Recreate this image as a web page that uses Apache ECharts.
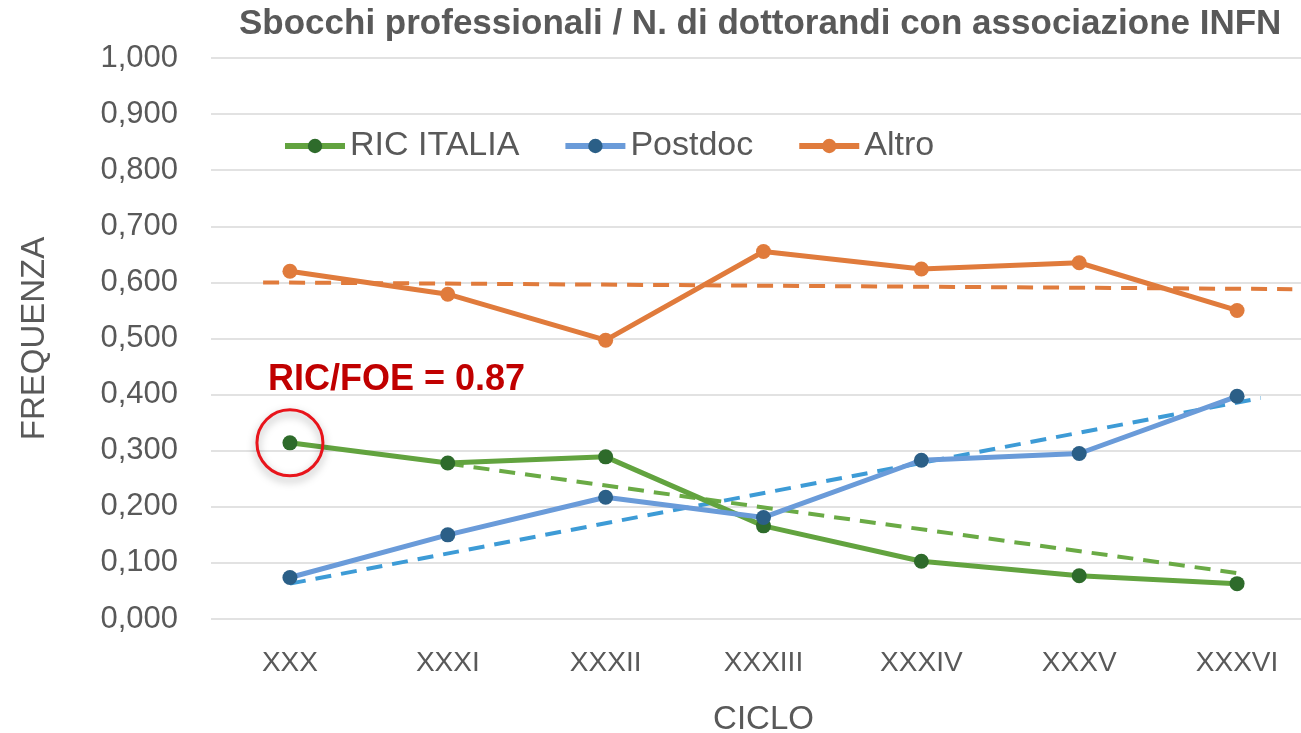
<!DOCTYPE html>
<html>
<head>
<meta charset="utf-8">
<script src="https://cdn.jsdelivr.net/npm/echarts@6/dist/echarts.min.js"></script>
<style>
  html, body { margin: 0; padding: 0; background: #fff; }
  #chart { width: 1301px; height: 733px; }
</style>
</head>
<body>
<div id="chart"></div>
<script>
const cicli = ['XXX', 'XXXI', 'XXXII', 'XXXIII', 'XXXIV', 'XXXV', 'XXXVI']
const ricItalia = [0.314, 0.278, 0.289, 0.166, 0.103, 0.077, 0.063]
const postdoc = [0.074, 0.150, 0.217, 0.181, 0.283, 0.295, 0.397]
const altro = [0.620, 0.579, 0.497, 0.655, 0.624, 0.635, 0.550]
// trend lines (dashed): [x in category units, y]
const trendRic = [[1.5, 0.277], [6.55, 0.080]]
const trendPostdoc = [[0.5, 0.063], [6.65, 0.394]]
const trendAltro = [[0.33, 0.600], [6.85, 0.588]]

const FONT = '"Liberation Sans", Arial, sans-serif'
const GREY = '#595959'

const myChart = echarts.init(document.getElementById('chart'))

function lineSeries (name, data, lineColor, dotColor, z) {
  return {
    name: name,
    type: 'line',
    data: data,
    symbol: 'circle',
    symbolSize: 15,
    z: z,
    lineStyle: { color: lineColor, width: 5 },
    itemStyle: { color: dotColor },
    emphasis: { disabled: true }
  }
}

function trendSeries (data, color) {
  return {
    type: 'line',
    xAxisIndex: 1,
    data: data,
    symbol: 'none',
    z: 1,
    lineStyle: { color: color, width: 4, type: [16, 10] },
    emphasis: { disabled: true }
  }
}

const ric = lineSeries('RIC ITALIA', ricItalia, '#62a33f', '#2e6b2b', 3)
ric.markPoint = {
  symbol: 'circle',
  symbolSize: 66,
  silent: true,
  label: { show: false },
  itemStyle: {
    color: 'rgba(255,255,255,0)',
    borderColor: '#e8141b',
    borderWidth: 3,
    shadowBlur: 8,
    shadowColor: 'rgba(0,0,0,0.35)',
    shadowOffsetY: 4
  },
  data: [{ coord: ['XXX', ricItalia[0]] }]
}

const option = {
  backgroundColor: '#fff',
  animation: false,
  textStyle: { fontFamily: FONT },
  title: {
    text: 'Sbocchi professionali / N. di dottorandi con associazione INFN',
    left: 234,
    top: 2,
    textStyle: { fontFamily: FONT, fontSize: 35, fontWeight: 'bold', color: GREY }
  },
  legend: {
    data: ['RIC ITALIA', 'Postdoc', 'Altro'],
    left: 277,
    top: 124,
    itemWidth: 60,
    itemHeight: 18,
    itemGap: 43,
    lineStyle: { width: 6 },
    textStyle: { fontFamily: FONT, fontSize: 34, color: GREY }
  },
  grid: { left: 211, top: 58, width: 1105, height: 561, outerBoundsMode: 'none' },
  xAxis: [
    {
      type: 'category',
      data: cicli,
      boundaryGap: true,
      name: 'CICLO',
      nameLocation: 'middle',
      nameGap: 84,
      nameTextStyle: { fontFamily: FONT, fontSize: 33, color: GREY },
      axisLine: { show: false },
      axisTick: { show: false },
      axisLabel: { fontFamily: FONT, fontSize: 28, color: GREY, margin: 30 }
    },
    {
      type: 'value',
      min: 0,
      max: 7,
      show: false
    }
  ],
  yAxis: {
    type: 'value',
    min: 0,
    max: 1,
    interval: 0.1,
    name: 'FREQUENZA',
    nameLocation: 'middle',
    nameGap: 160,
    nameTextStyle: { fontFamily: FONT, fontSize: 33, color: GREY },
    axisLine: { show: false },
    axisTick: { show: false },
    splitLine: { lineStyle: { color: '#d9d9d9', width: 1.5 } },
    axisLabel: {
      fontFamily: FONT,
      fontSize: 31,
      color: GREY,
      margin: 33,
      formatter: v => v.toFixed(3).replace('.', ',')
    }
  },
  graphic: [
    {
      type: 'text',
      left: 268,
      top: 362,
      style: { text: 'RIC/FOE = 0.87', fontFamily: FONT, fontSize: 36, fontWeight: 'bold', fill: '#c00000' }
    }
  ],
  series: [
    trendSeries(trendAltro, '#e07b3c'),
    trendSeries(trendPostdoc, '#3d9bd6'),
    trendSeries(trendRic, '#6aaa45'),
    lineSeries('Altro', altro, '#e07b3c', '#e07b3c', 2),
    ric,
    lineSeries('Postdoc', postdoc, '#6a9bd9', '#2b5f87', 4)
  ]
}

myChart.setOption(option)
window.onresize = function () {
  myChart.resize()
}
</script>
</body>
</html>
